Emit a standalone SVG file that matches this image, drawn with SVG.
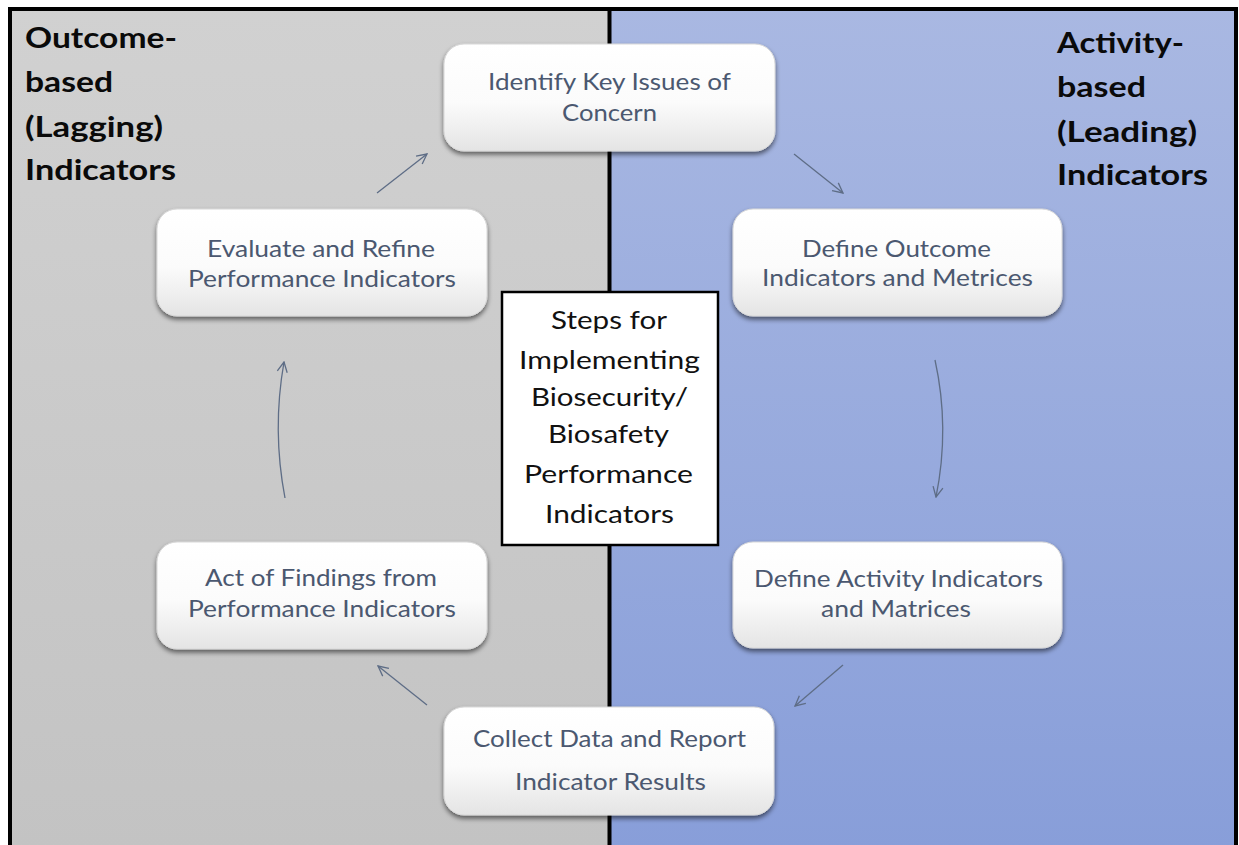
<svg xmlns="http://www.w3.org/2000/svg" width="1239" height="845" viewBox="0 0 1239 845">
<defs>
<linearGradient id="gGray" x1="0" y1="0" x2="0" y2="1"><stop offset="0" stop-color="#d1d1d1"/><stop offset="1" stop-color="#c3c3c3"/></linearGradient>
<linearGradient id="gBlue" x1="0" y1="0" x2="0" y2="1"><stop offset="0" stop-color="#a9b8e2"/><stop offset="1" stop-color="#889ed9"/></linearGradient>
<linearGradient id="gNode" x1="0" y1="0" x2="0" y2="1"><stop offset="0" stop-color="#ffffff"/><stop offset="0.55" stop-color="#fbfbfb"/><stop offset="1" stop-color="#e4e4e4"/></linearGradient>
<filter id="sh" x="-10%" y="-10%" width="120%" height="130%"><feGaussianBlur in="SourceAlpha" stdDeviation="2.5"/><feOffset dx="0" dy="3" result="b"/><feComponentTransfer><feFuncA type="linear" slope="0.55"/></feComponentTransfer><feMerge><feMergeNode/><feMergeNode in="SourceGraphic"/></feMerge></filter>
<marker id="arr" viewBox="0 0 12 12" refX="11" refY="6" markerWidth="12" markerHeight="12" markerUnits="userSpaceOnUse" orient="auto"><path d="M1,1 L11,6 L1,11" fill="none" stroke="#5e6d86" stroke-width="1.3"/></marker>
</defs>
<style>
.node{fill:url(#gNode);stroke:#d8d8d8;stroke-width:1;filter:url(#sh)}
.nt{font-family:Lato,"Noto Sans",sans-serif;font-size:24px;fill:#4b5870}
.ct{font-family:Lato,"Noto Sans",sans-serif;font-size:25px;fill:#111}
.hd{font-family:Lato,"Liberation Sans",sans-serif;font-weight:bold;font-size:28px;fill:#0a0a0a}
.conn{fill:none;stroke:#5e6d86;stroke-width:1.3;marker-end:url(#arr)}
</style>
<rect x="0" y="0" width="1239" height="845" fill="#ffffff"/>
<g id="panels">
<rect x="10" y="9" width="599" height="840" fill="url(#gGray)"/>
<rect x="609" y="9" width="627" height="840" fill="url(#gBlue)"/>
<path d="M10,849 L10,9 L1236,9 L1236,849" fill="none" stroke="#000" stroke-width="4"/>
<line x1="609.5" y1="9" x2="609.5" y2="845" stroke="#000" stroke-width="4"/>
</g>
<g id="heading-left">
<text class="hd" x="25" y="48" textLength="152" lengthAdjust="spacingAndGlyphs">Outcome-</text>
<text class="hd" x="25" y="92" textLength="88" lengthAdjust="spacingAndGlyphs">based</text>
<text class="hd" x="25" y="137" textLength="138" lengthAdjust="spacingAndGlyphs">(Lagging)</text>
<text class="hd" x="25" y="180" textLength="151" lengthAdjust="spacingAndGlyphs">Indicators</text>
</g>
<g id="heading-right">
<text class="hd" x="1057" y="53" textLength="127" lengthAdjust="spacingAndGlyphs">Activity-</text>
<text class="hd" x="1057" y="97" textLength="89" lengthAdjust="spacingAndGlyphs">based</text>
<text class="hd" x="1057" y="142" textLength="140" lengthAdjust="spacingAndGlyphs">(Leading)</text>
<text class="hd" x="1057" y="185" textLength="151" lengthAdjust="spacingAndGlyphs">Indicators</text>
</g>
<g id="connectors">
<path class="conn" d="M377,193 L427,154"/>
<path class="conn" d="M794,154 L843,193"/>
<path class="conn" d="M935,360 Q950,428 936,497"/>
<path class="conn" d="M843,665 L795,706"/>
<path class="conn" d="M427,705 L378,666"/>
<path class="conn" d="M285,498 Q272,430 284,362"/>
</g>
<g id="node-identify">
<rect class="node" x="444" y="44" width="331" height="107" rx="20"/>
<text class="nt" x="488" y="90" textLength="243" lengthAdjust="spacingAndGlyphs">Identify Key Issues of</text>
<text class="nt" x="562" y="121" textLength="95" lengthAdjust="spacingAndGlyphs">Concern</text>
</g>
<g id="node-evaluate">
<rect class="node" x="157" y="209" width="330" height="107" rx="20"/>
<text class="nt" x="207" y="257" textLength="228" lengthAdjust="spacingAndGlyphs">Evaluate and Refine</text>
<text class="nt" x="188" y="287" textLength="268" lengthAdjust="spacingAndGlyphs">Performance Indicators</text>
</g>
<g id="node-outcome">
<rect class="node" x="733" y="209" width="329" height="107" rx="20"/>
<text class="nt" x="802" y="257" textLength="189" lengthAdjust="spacingAndGlyphs">Define Outcome</text>
<text class="nt" x="762" y="286" textLength="271" lengthAdjust="spacingAndGlyphs">Indicators and Metrices</text>
</g>
<g id="node-center">
<rect x="502" y="292" width="216" height="253" fill="#ffffff" stroke="#000" stroke-width="2.5"/>
<text class="ct" x="551" y="329" textLength="116" lengthAdjust="spacingAndGlyphs">Steps for</text>
<text class="ct" x="519" y="369" textLength="181" lengthAdjust="spacingAndGlyphs">Implementing</text>
<text class="ct" x="531" y="406" textLength="157" lengthAdjust="spacingAndGlyphs">Biosecurity/</text>
<text class="ct" x="548" y="443" textLength="121" lengthAdjust="spacingAndGlyphs">Biosafety</text>
<text class="ct" x="524" y="483" textLength="169" lengthAdjust="spacingAndGlyphs">Performance</text>
<text class="ct" x="545" y="523" textLength="129" lengthAdjust="spacingAndGlyphs">Indicators</text>
</g>
<g id="node-act">
<rect class="node" x="157" y="542" width="330" height="107" rx="20"/>
<text class="nt" x="205" y="586" textLength="232" lengthAdjust="spacingAndGlyphs">Act of Findings from</text>
<text class="nt" x="188" y="617" textLength="268" lengthAdjust="spacingAndGlyphs">Performance Indicators</text>
</g>
<g id="node-activity">
<rect class="node" x="733" y="542" width="329" height="106" rx="20"/>
<text class="nt" x="754" y="587" textLength="289" lengthAdjust="spacingAndGlyphs">Define Activity Indicators</text>
<text class="nt" x="821" y="617" textLength="150" lengthAdjust="spacingAndGlyphs">and Matrices</text>
</g>
<g id="node-collect">
<rect class="node" x="444" y="707" width="330" height="108" rx="20"/>
<text class="nt" x="473" y="747" textLength="273" lengthAdjust="spacingAndGlyphs">Collect Data and Report</text>
<text class="nt" x="515" y="790" textLength="191" lengthAdjust="spacingAndGlyphs">Indicator Results</text>
</g>
</svg>
